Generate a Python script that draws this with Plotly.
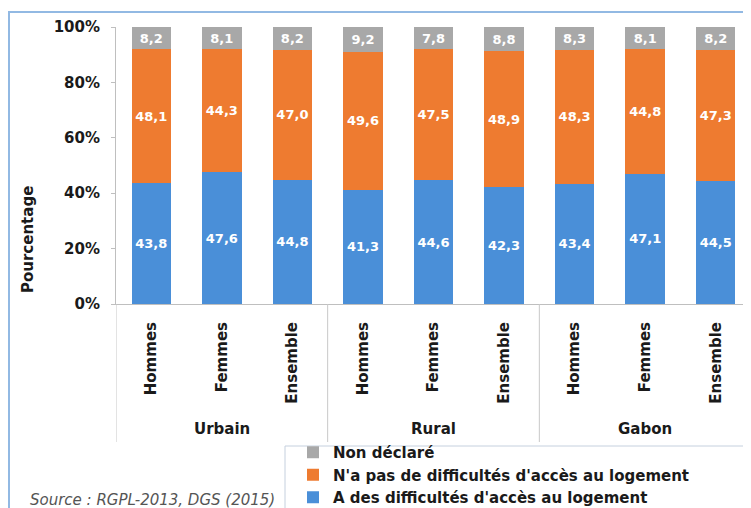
import plotly.graph_objects as go

groups = ["Urbain", "Rural", "Gabon"]
subs = ["Hommes", "Femmes", "Ensemble"]
series_names = ["A des difficultés d'accès au logement",
                "N'a pas de difficultés d'accès au logement",
                "Non déclaré"]
with_diff = [43.8, 47.6, 44.8, 41.3, 44.6, 42.3, 43.4, 47.1, 44.5]
no_diff = [48.1, 44.3, 47.0, 49.6, 47.5, 48.9, 48.3, 44.8, 47.3]
not_decl = [8.2, 8.1, 8.2, 9.2, 7.8, 8.8, 8.3, 8.1, 8.2]
y_ticks = [0, 20, 40, 60, 80, 100]
y_ticklabels = ["0%", "20%", "40%", "60%", "80%", "100%"]
source_text = "Source : RGPL-2013, DGS (2015)"

colors = ["#4A8FD8", "#EE7B30", "#A8A8A8"]
FONT = "DejaVu Sans, sans-serif"
DARK = "#1a1a1a"

x = list(range(len(with_diff)))
ticktext = [s for g in groups for s in subs]

# page body has an 8px margin: the figure is drawn at (8, 8)
OFF = 8
W, H = 751 - OFF, 508 - OFF
L, R, T, B = 116 - OFF, 0, 27 - OFF, 204
pw, ph = W - L - R, H - T - B

def px(xs):
    return (xs - OFF - L) / pw

def py(ys):
    return (H - B - (ys - OFF)) / ph

def fmt(v):
    return f"{v:.1f}".replace(".", ",")

fig = go.Figure()
for name, vals, col in zip(series_names, [with_diff, no_diff, not_decl], colors):
    fig.add_trace(go.Bar(
        x=x, y=vals, name=name, marker=dict(color=col, line=dict(width=0)),
        text=[fmt(v) for v in vals], textposition="inside",
        insidetextanchor="middle", textangle=0,
        textfont=dict(color="white", size=13, family=FONT, weight="bold"),
        hoverinfo="skip",
    ))

shapes = []
# outer frame
shapes.append(dict(type="rect", xref="paper", yref="paper",
                   x0=px(9), x1=px(770), y0=py(560), y1=py(12),
                   line=dict(color="#92B9E3", width=2), fillcolor="rgba(0,0,0,0)", layer="above"))
# group dividers (including left edge)
for b in [-0.5, 2.5, 5.5]:
    shapes.append(dict(type="line", xref="x", yref="paper", x0=b, x1=b,
                       y0=0, y1=py(442), line=dict(color="#C8C8C8", width=1)))
# legend box
shapes.append(dict(type="rect", xref="paper", yref="paper",
                   x0=px(285), x1=px(780), y0=py(560), y1=py(446),
                   line=dict(color="#C5D0DE", width=1), fillcolor="rgba(0,0,0,0)"))

annotations = []
for i, g in enumerate(groups):
    annotations.append(dict(x=i * 3 + 1, y=py(429), xref="x", yref="paper",
                            xanchor="center", yanchor="middle",
                            text=g, showarrow=False,
                            font=dict(size=15, family=FONT, color=DARK, weight="bold")))
annotations.append(dict(x=px(28), y=py(240), xref="paper", yref="paper",
                        xanchor="center", yanchor="middle",
                        text="Pourcentage", textangle=-90, showarrow=False,
                        font=dict(size=15, family=FONT, color=DARK, weight="bold")))
annotations.append(dict(x=px(28), y=py(500), xref="paper", yref="paper",
                        xanchor="left", yanchor="middle",
                        text="<i>" + source_text + "</i>", showarrow=False,
                        font=dict(size=15, family=FONT, color="#555")))

fig.update_layout(
    width=W, height=H,
    margin=dict(l=L, r=R, t=T, b=B, autoexpand=False),
    barmode="stack", bargap=0.44,
    paper_bgcolor="white", plot_bgcolor="white",
    font=dict(family=FONT, color=DARK),
    showlegend=True,
    legend=dict(x=px(293), y=py(436), xanchor="left", yanchor="top",
                traceorder="reversed", bgcolor="rgba(0,0,0,0)",
                font=dict(size=15, family=FONT, color=DARK, weight="bold"),
                itemwidth=30, tracegroupgap=0),
    xaxis=dict(tickmode="array", tickvals=x, ticktext=ticktext, tickangle=-90,
               range=[-0.5, len(x) - 0.5], showline=True, linecolor="#BFBFBF",
               ticks="", showgrid=False, zeroline=False, ticklabelstandoff=11,
               automargin=False,
               tickfont=dict(size=15, family=FONT, color=DARK, weight="bold")),
    yaxis=dict(range=[0, 100], tickmode="array", tickvals=y_ticks, ticktext=y_ticklabels,
               showline=True, linecolor="#BFBFBF", ticks="outside", ticklen=4,
               tickcolor="#BFBFBF", showgrid=False, zeroline=False,
               ticklabelstandoff=8, automargin=False,
               tickfont=dict(size=15, family=FONT, color=DARK, weight="bold")),
    shapes=shapes, annotations=annotations,
)

fig.write_html("out.html")
